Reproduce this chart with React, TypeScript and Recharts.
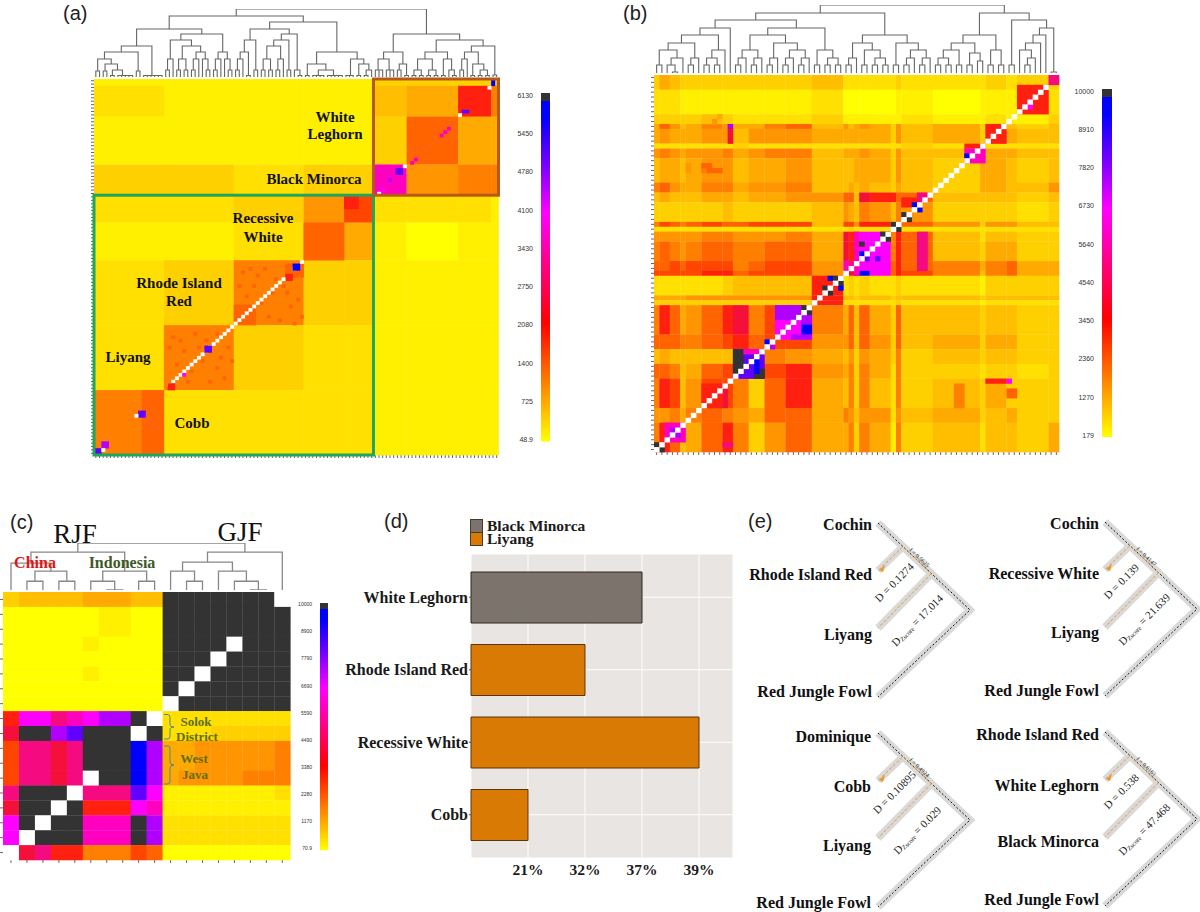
import {
  Bar,
  BarChart,
  CartesianGrid,
  Legend,
  Line,
  LineChart,
  Scatter,
  ScatterChart,
  XAxis,
  YAxis,
} from 'recharts';

const SERIF = '"Liberation Serif", serif';
const SANS = '"Liberation Sans", sans-serif';

// colour levels of the contact heatmaps, written as base-36 digits below
const heatColors = [
  '#ffff00', '#fff000', '#ffe000', '#ffd000', '#ffbf00', '#ffaa00', '#ff9500', '#ff7f00',
  '#ff6400', '#ff4500', '#ff2010', '#f5103a', '#f50a80', '#ff00c0', '#ff00ff', '#b000ff',
  '#6000ff', '#0000ff', '#333333', '#ffffff',
];

// ---- panel (a)
const aColEdges = [0, 19, 38, 57, 68, 76, 85, 99, 108, 110];
const aRowEdges = [0, 2, 11, 25, 34, 42, 53, 72, 91, 110];
const aBands = [
  '111113334',
  '211114 5a7',
  '111113855',
  '33233d677',
  '223692221',
  '112851011',
  '237331111',
  '273221111',
  '722221111',
];
// r0, r1, c0, c1, level
const aPatches: [number, number, number, number, string][] = [
  [91, 110, 13, 19, '8'],
  [66, 72, 38, 44, '8'],
  [54, 58, 52, 57, '8'],
  [34, 38, 68, 72, 'a'],
  [34, 38, 72, 75, '9'],
  [42, 53, 57, 68, '8'],
  [0, 2, 108, 109, 'h'],
  [9, 10, 100, 102, 'g'],
  [16, 17, 94, 95, 'd'],
  [15, 16, 95, 96, 'd'],
  [14, 15, 96, 97, 'd'],
  [23, 24, 87, 88, 'd'],
  [24, 25, 86, 87, 'd'],
  [26, 28, 82, 84, 'g'],
  [29, 30, 80, 81, 'f'],
  [32, 33, 78, 79, 'e'],
  [2, 3, 107, 108, 'j'],
  [10, 11, 99, 100, 'j'],
  [25, 26, 84, 85, 'j'],
  [33, 34, 77, 78, 'j'],
  [57, 59, 52, 54, 'a'],
];
const aDiagonal = [
  20, 21, 22, 23, 24, 25, 26, 27, 28, 29, 30, 31, 32, 33, 34, 35, 36, 37, 38, 39, 40, 41, 42,
  43, 44, 45, 46, 47, 48, 49, 50, 51, 54, 56,
];
const aDiagonalMarks: [number, number, number, number, string][] = [
  [78, 80, 30, 32, 'g'],
  [86, 87, 24, 25, 'e'],
  [89, 91, 20, 22, 'a'],
  [54, 56, 54, 56, 'h'],
  [97, 99, 12, 14, 'g'],
  [98, 99, 11, 12, 'j'],
  [106, 108, 2, 4, 'f'],
  [108, 110, 0, 2, 'g'],
  [108, 109, 2, 3, 'j'],
];
const aSpeckles: [number, number][] = [
  [21, 75], [24, 79], [27, 74], [30, 76], [33, 74], [36, 78], [22, 83], [26, 85], [29, 82],
  [33, 84], [35, 87], [25, 88], [31, 88], [37, 82], [20, 78], [28, 78], [34, 81], [23, 76],
  [40, 56], [43, 60], [46, 55], [49, 58], [41, 63], [45, 65], [48, 62], [51, 60], [53, 66],
  [55, 64], [47, 69], [50, 70], [54, 71], [44, 57], [39, 60], [52, 62], [42, 55], [56, 69],
];
const aTree = (() => {
  const P = [7, 0, 0];
  const Q = [6, 0, 0];
  const F = [1.5, 0, 0];
  const cobb = [31, [25, [18, Q, [13, Q, [7, F, [1.5, 0, [1.5, F, F]]]]], Q], [1.5, [1.5, 0, F], [1.5, 0, F]]];
  const liyang = [43, [37, [18, P, 0], [31, [18, P, P], [25, [18, P, 0], [18, 0, P]]]], [25, [18, P, 0], [18, 0, P]]];
  const rir = [48, [37, [25, [18, P, 0], F], P], [43, [37, [31, [18, P, P], [18, P, 0]], P], [7, 0, F]]];
  const recessive = [25, [13, F, [7, [1.5, F, F], [1.5, F, [1.5, 0, F]]]], [18, [1.5, F, 0], [13, F, [7, F, 0]]]];
  const minorca = [25, [18, [7, 0, P], [7, 0, P]], [13, P, F]];
  const left = [25, [18, [7, F, F], [7, F, F]], [18, F, [7, 0, F]]];
  const right = [31, [25, [18, P, 0], [13, F, [7, F, F]]], [2, 0, 0]];
  return [68, [61, [48, cobb, liyang], [55, rir, recessive]], [43, minorca, [37, left, right]]];
})();
const aBarTicks = [48.9, 725, 1400, 2080, 2750, 3430, 4100, 4780, 5450, 6130];

// ---- panel (b)
const bColEdges = [0, 1, 3, 5, 6, 9, 13, 15, 18, 21, 25, 30, 36, 37, 38, 39, 41, 45, 46, 47, 53, 62, 63, 67, 69, 75, 77];
const bRowEdges = [0, 3, 8, 10, 11, 14, 15, 17, 22, 24, 26, 30, 31, 32, 34, 38, 40, 41, 45, 46, 47, 53, 56, 59, 62, 68, 71, 77];
const bBands = [
  '354333333334 22222232 223233',
  '222111111112 00000011 011112',
  '333334322223 11111112 112113',
  '586457655784 64565364 535434',
  '565556646665 55555364 535544',
  '222222232222 22222223 212222',
  '676566756774 55565364 465544',
  '455456645564 44555364 355434',
  '786557756674 45454354 355446',
  '454445545566 884baa88 444434',
  '333333433334 65476476 333323',
  '798789889994 996aa498 636644',
  '222222222222 23222232 222222',
  '666667766675 baaee7a8 424433',
  '787678877885 baaee7a8 435533',
  '889899978996 dcaee8a8 757855',
  '99999aa89996 8bdhe8a9 747855',
  '22222234444a 23232232 213333',
  '55556666666a 44344344 434444',
  '33333333333a 22222232 212222',
  '7a8568ab79a7 58485384 434433',
  '8887789a8996 68486384 535533',
  '454444444765 46365373 434433',
  '8874589999a6 57375273 323323',
  '7a94699738a5 47374273 435333',
  '667578765885 76466264 534533',
  '7a8458a73685 57375173 424435',
];
const bPatches: [number, number, number, number, string][] = [
  [0, 2, 75, 77, 'c'],
  [2, 8, 69, 75, 'a'],
  [5, 7, 71, 72, 'e'],
  [10, 14, 63, 67, 'a'],
  [14, 15, 59, 63, 'a'],
  [15, 18, 59, 63, 'd'],
  [16, 17, 59, 60, 'h'],
  [10, 11, 14, 15, 'f'],
  [11, 14, 14, 15, 'b'],
  [8, 9, 12, 13, '5'],
  [9, 10, 9, 13, '4'],
  [9, 10, 11, 12, '6'],
  [18, 20, 6, 7, '6'],
  [18, 20, 9, 10, '7'],
  [19, 20, 10, 13, '8'],
  [18, 19, 9, 11, '8'],
  [25, 27, 47, 50, 'a'],
  [24, 26, 50, 52, 'c'],
  [32, 40, 50, 52, 'c'],
  [32, 41, 38, 39, 'd'],
  [32, 34, 43, 45, 'i'],
  [34, 35, 39, 40, 'i'],
  [36, 37, 39, 40, 'h'],
  [37, 38, 40, 41, 'g'],
  [37, 38, 42, 43, 'g'],
  [26, 27, 49, 50, 'h'],
  [27, 28, 50, 51, 'h'],
  [28, 29, 47, 48, 'i'],
  [29, 30, 48, 49, 'i'],
  [30, 31, 45, 46, 'i'],
  [31, 32, 46, 47, 'i'],
  [41, 42, 33, 34, 'h'],
  [41, 42, 34, 35, 'i'],
  [42, 43, 35, 36, 'i'],
  [43, 44, 35, 36, 'h'],
  [43, 44, 32, 33, 'i'],
  [44, 45, 33, 34, 'i'],
  [47, 54, 23, 30, 'e'],
  [47, 50, 23, 28, 'f'],
  [47, 49, 28, 30, 'i'],
  [49, 51, 28, 30, 'f'],
  [51, 53, 28, 30, 'h'],
  [53, 54, 26, 30, 'f'],
  [54, 55, 21, 22, 'h'],
  [55, 56, 22, 23, 'f'],
  [56, 62, 15, 21, 'g'],
  [56, 61, 15, 17, 'i'],
  [56, 57, 17, 20, 'd'],
  [60, 62, 19, 21, 'i'],
  [58, 61, 19, 20, 'h'],
  [62, 63, 63, 67, 'a'],
  [62, 63, 67, 68, 'e'],
  [63, 68, 9, 13, 'a'],
  [63, 68, 13, 14, 'b'],
  [63, 68, 57, 59, '7'],
  [64, 66, 67, 69, '8'],
  [71, 75, 2, 6, 'd'],
  [72, 74, 3, 5, 'f'],
  [75, 76, 13, 15, 'c'],
  [75, 76, 0, 1, 'i'],
  [76, 77, 1, 2, 'i'],
  [75, 76, 1, 2, 'j'],
];
const bDiagonal = [
  0, 2, 3, 4, 5, 6, 7, 8, 9, 10, 11, 12, 13, 14, 15, 16, 17, 18, 19, 20, 21, 22, 23, 24, 25, 26,
  27, 28, 29, 30, 31, 32, 33, 34, 35, 36, 37, 38, 39, 40, 41, 42, 43, 44, 45, 46, 47, 48, 49, 50,
  51, 52, 53, 54, 55, 56, 57, 58, 59, 60, 61, 62, 63, 64, 65, 66, 67, 68, 69, 70, 71, 72, 73, 74,
];
const bTree = (() => {
  const P = [8, 0, 0];
  const F = [1, 0, 0];
  const left = [45, [38, [30, [23, P, [15, [8, 0, F], 0]], [15, P, 0]], [23, [15, P, P], 0]], 0];
  const mid = [45, [38, [23, [15, P, 0], [15, P, 0]], [30, [15, P, 0], [23, [15, P, 0], [15, P, 0]]]], [23, P, [15, P, P]]];
  const centre = [38, [30, [15, P, 0], [23, P, [15, P, [8, 0, 0]]]], [30, P, [23, [15, P, 0], [15, P, 0]]]];
  const rightA = [38, [30, [23, [15, P, P], P], [20, P, [12, 0, 0]]], [23, P, P]];
  const rightB = [53, P, [45, [38, [30, [23, 0, [15, P, 0]], 0], 0], F]];
  return [68, [60, [53, left, mid], centre], [60, rightA, rightB]];
})();
const bBarTicks = [179, 1270, 2360, 3450, 4540, 5640, 6730, 7820, 8910, 10000];

// ---- panel (c)
const cRows = [
  '3444455544iiiiiiij',
  '0000001100iiiiiiii',
  '0000001100iiiiiiii',
  '0000010000iiiijiii',
  '0000000000iiijiiii',
  '0000010000iijiiiii',
  '0000000000ijiiiiii',
  '0000000000jiiiiiii',
  'aeecdeffij22222222',
  'biifgiiiji22233333',
  '9ccbciiihf55666667',
  '9ccbciiihf55666667',
  '9ccbcjiihf56666777',
  'ciiijcccge11111112',
  'biijiaaaed11111111',
  'eijiidddif22222222',
  'ejiiidddif22222222',
  'jbcaa7779800000000',
];
const cTree = [
  47,
  [38, [27, 0, [19, [9, 0, 0], [9, 0, 0]]], [19, [9, 0, [0.3, 0, 0]], [9, 0, 0]]],
  [38, [28, [19, 0, [9, 0, 0]], [19, 0, [9, 0, [0.3, 0, 0]]]], 0],
];
const cBarTicks = [70.9, 1170, 2280, 3380, 4490, 5590, 6690, 7790, 8900, 10000];

// ---- panel (d)
const dBreeds = ['White Leghorn', 'Rhode Island Red', 'Recessive White', 'Cobb'];
const dMinorca = [37, null, null, null];
const dLiyang = [null, 32, 39, 21];
const dTicks = [21, 32, 37, 39];

// ---- panel (e)
const eOuter = [{ x: 0, y: 0 }, { x: 92, y: 87 }, { x: 0, y: 174 }];
const eUpper = [{ x: 53.5, y: 50.6 }, { x: 25, y: 23.6 }, { x: 0, y: 47.6 }];
const eLower = [{ x: 53.5, y: 50.6 }, { x: 0, y: 105 }];
const eTaxa = [
  ['Cochin', 'Rhode Island Red', 'Liyang', 'Red Jungle Fowl'],
  ['Cochin', 'Recessive White', 'Liyang', 'Red Jungle Fowl'],
  ['Dominique', 'Cobb', 'Liyang', 'Red Jungle Fowl'],
  ['Rhode Island Red', 'White Leghorn', 'Black Minorca', 'Red Jungle Fowl'],
];
const eF = ['f = 0.5625', 'f = 0.4147', 'f = 0.4924', 'f = 0.6161'];
const eD = ['D = 0.1274', 'D = 0.139', 'D = 0.10895', 'D = 0.538'];
const eZ = ['17.014', '21.639', '0.029', '47.468'];

type Span = { x: number; y: number; w: number; h: number; level: number };

const lv = (c: string) => parseInt(c, 36);

function span(r0: number, r1: number, c0: number, c1: number, level: number): Span {
  return { x: (c0 + c1) / 2, y: (r0 + r1) / 2, w: c1 - c0, h: r1 - r0, level };
}

function bandSpans(rowEdges: number[], colEdges: number[], rows: string[]) {
  const out: Span[] = [];
  rows.forEach((row, i) => {
    row
      .replace(/ /g, '')
      .split('')
      .forEach((ch, j) => {
        out.push(span(rowEdges[i], rowEdges[i + 1], colEdges[j], colEdges[j + 1], lv(ch)));
      });
  });
  return out;
}

function patchSpans(list: [number, number, number, number, string][]) {
  return list.map((p) => span(p[0], p[1], p[2], p[3], lv(p[4])));
}

// turns a nested [height, left, right] tree into one broken line, leaves are 0
function dendroPoints(tree: any) {
  const pts: { x: number; y: number | null }[] = [];
  let leaf = 0;
  const walk = (node: any): { x: number; h: number } => {
    if (node === 0) {
      leaf += 1;
      return { x: leaf - 0.5, h: 0 };
    }
    const a = walk(node[1]);
    const b = walk(node[2]);
    pts.push({ x: a.x, y: a.h }, { x: a.x, y: node[0] }, { x: b.x, y: node[0] }, { x: b.x, y: b.h }, { x: b.x, y: null });
    return { x: (a.x + b.x) / 2, h: node[0] };
  };
  walk(tree);
  return pts;
}

function Dendrogram({ left, top, width, height, leaves, maxH, tree, stroke = '#666', strokeWidth = 1.1 }: any) {
  const data = dendroPoints(tree);
  return (
    <div style={{ position: 'absolute', left, top }}>
      <LineChart width={width} height={height} data={data} margin={{ top: 0, right: 0, bottom: 0, left: 0 }}>
        <XAxis dataKey="x" type="number" domain={[0, leaves]} hide />
        <YAxis type="number" domain={[0, maxH]} hide />
        <Line dataKey="y" type="linear" stroke={stroke} strokeWidth={strokeWidth} dot={false} isAnimationActive={false} />
      </LineChart>
    </div>
  );
}

function HeatMap({ left, top, width, height, cols, rows, spans, frames, axis = 4 }: any) {
  const ux = width / cols;
  const uy = height / rows;
  const pad = 3;
  const cell = (p: any) => {
    const d = p.payload;
    return (
      <rect
        x={p.cx - (d.w * ux) / 2}
        y={p.cy - (d.h * uy) / 2}
        width={d.w * ux + 0.3}
        height={d.h * uy + 0.3}
        fill={heatColors[d.level]}
      />
    );
  };
  const frame = (color: string) => (p: any) => {
    const d = p.payload;
    return (
      <rect
        x={p.cx - (d.w * ux) / 2}
        y={p.cy - (d.h * uy) / 2}
        width={d.w * ux}
        height={d.h * uy}
        fill="none"
        stroke={color}
        strokeWidth={3}
      />
    );
  };
  const colTicks = Array.from({ length: cols }, (_, i) => i + 0.5);
  const rowTicks = Array.from({ length: rows }, (_, i) => i + 0.5);
  return (
    <div style={{ position: 'absolute', left: left - axis, top: top - pad }}>
      <ScatterChart
        width={width + axis + pad}
        height={height + axis + pad}
        margin={{ top: pad, right: pad, bottom: 0, left: 0 }}
      >
        <XAxis
          dataKey="x"
          type="number"
          domain={[0, cols]}
          ticks={colTicks}
          interval={0}
          height={axis}
          axisLine={false}
          tickSize={axis - 1}
          tickFormatter={() => ''}
          stroke="#666"
        />
        <YAxis
          dataKey="y"
          type="number"
          domain={[0, rows]}
          reversed
          ticks={rowTicks}
          interval={0}
          width={axis}
          axisLine={false}
          tickSize={axis - 1}
          tickFormatter={() => ''}
          stroke="#666"
        />
        <Scatter data={spans} shape={cell} isAnimationActive={false} />
        {frames
          ? frames.map((f: any) => (
              <Scatter key={f.color} data={[f]} shape={frame(f.color)} isAnimationActive={false} />
            ))
          : null}
      </ScatterChart>
    </div>
  );
}

function ColorBar({ id, left, top, width, height, domain, ticks, labelWidth, fontSize = 7 }: any) {
  const pad = 6;
  return (
    <div style={{ position: 'absolute', left: left - labelWidth, top: top - pad }}>
      <BarChart
        width={width + labelWidth}
        height={height + pad * 2}
        data={[{ name: '', value: domain[1] }]}
        barCategoryGap={0}
        margin={{ top: pad, right: 0, bottom: pad, left: 0 }}
      >
        <defs>
          <linearGradient id={id} x1="0" y1="0" x2="0" y2="1">
            <stop offset="0.022" stopColor="#333333" />
            <stop offset="0.023" stopColor="#0000ff" />
            <stop offset="0.07" stopColor="#0000ff" />
            <stop offset="0.2" stopColor="#7000ff" />
            <stop offset="0.345" stopColor="#ff00ff" />
            <stop offset="0.46" stopColor="#ff00a0" />
            <stop offset="0.66" stopColor="#ff0000" />
            <stop offset="0.86" stopColor="#ff9500" />
            <stop offset="1" stopColor="#ffff00" />
          </linearGradient>
        </defs>
        <XAxis dataKey="name" hide />
        <YAxis
          type="number"
          domain={domain}
          ticks={ticks}
          interval={0}
          width={labelWidth}
          axisLine={false}
          tickLine={false}
          tickMargin={2}
          tick={{ fontFamily: SANS, fontSize, fill: '#333' }}
        />
        <Bar dataKey="value" fill={`url(#${id})`} isAnimationActive={false} />
      </BarChart>
    </div>
  );
}

function BreedBars() {
  const data = dBreeds.map((name, i) => ({
    name,
    minorca: dMinorca[i] === null ? null : dTicks.indexOf(dMinorca[i] as number) + 1,
    liyang: dLiyang[i] === null ? null : dTicks.indexOf(dLiyang[i] as number) + 1,
  }));
  const legend = () => (
    <div style={{ fontFamily: SERIF, fontWeight: 'bold', fontSize: 15.5, color: '#1a1a1a', lineHeight: '13px' }}>
      {[
        ['Black Minorca', '#7c736d'],
        ['Liyang', '#d97a04'],
      ].map(([label, color]) => (
        <div key={label} style={{ display: 'flex', alignItems: 'center', height: 13 }}>
          <span style={{ display: 'inline-block', width: 11, height: 12, background: color, border: '0.5px solid #4a3a2a', marginRight: 4 }} />
          {label}
        </div>
      ))}
    </div>
  );
  return (
    <div style={{ position: 'absolute', left: 340, top: 515 }}>
      <BarChart
        width={393}
        height={403}
        data={data}
        layout="vertical"
        margin={{ top: 39, right: 0, bottom: 0, left: 0 }}
      >
        <CartesianGrid fill="#e8e5e2" stroke="#ffffff" strokeWidth={1} />
        <XAxis
          type="number"
          domain={[0, 4.596]}
          ticks={[1, 2, 3, 4]}
          interval={0}
          height={33}
          axisLine={false}
          tickLine={false}
          tickMargin={0}
          tickFormatter={(v) => `${dTicks[v - 1]}%`}
          tick={{ fontFamily: SERIF, fontWeight: 'bold', fontSize: 15.5, fill: '#1a1a1a' }}
        />
        <YAxis
          type="category"
          dataKey="name"
          width={131}
          padding={{ top: 7, bottom: 7 }}
          axisLine={false}
          tickSize={2}
          tickMargin={1}
          stroke="#555"
          tick={{ fontFamily: SERIF, fontWeight: 'bold', fontSize: 16, fill: '#1a1a1a' }}
        />
        <Legend
          content={legend}
          wrapperStyle={{ position: 'absolute', left: 130, top: 4, width: 200, height: 27 }}
        />
        <Bar dataKey="minorca" stackId="a" barSize={51} fill="#7c736d" stroke="#2c2620" strokeWidth={1} isAnimationActive={false} />
        <Bar dataKey="liyang" stackId="a" barSize={51} fill="#d97a04" stroke="#5a3510" strokeWidth={1} isAnimationActive={false} />
      </BarChart>
    </div>
  );
}

function Quartet({ left, top }: { left: number; top: number }) {
  const line = { type: 'linear' as const, dataKey: 'y', dot: false, isAnimationActive: false };
  return (
    <div style={{ position: 'absolute', left: left - 8, top: top - 8 }}>
      <LineChart width={112} height={192} margin={{ top: 0, right: 0, bottom: 0, left: 0 }}>
        <XAxis dataKey="x" type="number" domain={[-8, 104]} hide allowDuplicatedCategory={false} />
        <YAxis type="number" domain={[-8, 184]} reversed hide />
        <Line {...line} data={eOuter} stroke="#d9d9d9" strokeWidth={7.5} />
        <Line {...line} data={eUpper} stroke="#d9d9d9" strokeWidth={7.5} />
        <Line {...line} data={eLower} stroke="#d9d9d9" strokeWidth={7.5} />
        <Line {...line} data={eOuter} stroke="#111" strokeWidth={1} strokeDasharray="2 2" />
        <Line {...line} data={eUpper} stroke="#e89a2c" strokeWidth={1} strokeDasharray="3 2" />
        <Line {...line} data={eLower} stroke="#e89a2c" strokeWidth={1} strokeDasharray="3 2" />
      </LineChart>
    </div>
  );
}

const quartetPos = [
  { x: 878, y: 523, right: 872, base: [530, 580, 640, 697] },
  { x: 1105, y: 522, right: 1099, base: [529, 579, 638, 696] },
  { x: 878, y: 733, right: 871, base: [742, 792, 851, 908] },
  { x: 1105, y: 732, right: 1099, base: [740, 791, 847, 905] },
];

function Overlay() {
  const bold = { fontFamily: SERIF, fontWeight: 'bold' as const, fill: '#111' };
  const a = (x: number, y: number, s: string) => (
    <text key={s + y} x={x} y={y} textAnchor="middle" fontSize={15} {...bold}>
      {s}
    </text>
  );
  return (
    <svg width={1200} height={912} style={{ position: 'absolute', left: 0, top: 0, pointerEvents: 'none' }}>
      {[
        ['(a)', 63, 20],
        ['(b)', 623, 20],
        ['(c)', 10, 529],
        ['(d)', 384, 528],
        ['(e)', 748, 528],
      ].map(([s, x, y]) => (
        <text key={s as string} x={x} y={y} fontFamily={SANS} fontSize={20} fill="#222">
          {s}
        </text>
      ))}
      {a(335, 122, 'White')}
      {a(335, 139, 'Leghorn')}
      {a(314, 184, 'Black Minorca')}
      {a(263, 223, 'Recessive')}
      {a(263, 242, 'White')}
      {a(179, 288, 'Rhode Island')}
      {a(179, 306, 'Red')}
      {a(128, 362, 'Liyang')}
      {a(192, 428, 'Cobb')}

      <text x={75} y={543} textAnchor="middle" fontFamily={SERIF} fontSize={27} fill="#111">RJF</text>
      <text x={240} y={541} textAnchor="middle" fontFamily={SERIF} fontSize={27} fill="#111">GJF</text>
      <text x={35} y={568} textAnchor="middle" fontFamily={SERIF} fontWeight="bold" fontSize={16} fill="#e01515">China</text>
      <text x={122} y={568} textAnchor="middle" fontFamily={SERIF} fontWeight="bold" fontSize={16} fill="#3c5a28">Indonesia</text>
      {[
        ['Solok', 196, 726],
        ['District', 197, 741],
        ['West', 194, 763],
        ['Java', 195, 779],
      ].map(([s, x, y]) => (
        <text key={s as string} x={x} y={y} textAnchor="middle" fontFamily={SERIF} fontWeight="bold" fontSize={13} fill="#5c6e14">
          {s}
        </text>
      ))}
      <path d="M164 714.5 H168 Q170 715 170 718 V725 Q170 727 174 727 Q170 727 170 729 V736 Q170 739 168 739 H164" fill="none" stroke="#4d8797" strokeWidth={1} />
      <path d="M164 746 H168 Q170 746 170 749 V762 Q170 765 174 765 Q170 765 170 768 V781 Q170 784 168 784 H164" fill="none" stroke="#4d8797" strokeWidth={1} />

      {quartetPos.map((q, i) => (
        <g key={i}>
          {eTaxa[i].map((t, j) => (
            <text key={t + j} x={q.right} y={q.base[j]} textAnchor="end" fontSize={16} {...bold}>
              {t}
            </text>
          ))}
          <polygon points={`${q.x + 1},${q.y + 47} ${q.x + 7},${q.y + 42} ${q.x + 5},${q.y + 49}`} fill="#e89a2c" />
          <text x={q.x + 19} y={q.y + 62} textAnchor="middle" fontFamily={SERIF} fontSize={11} fill="#222" transform={`rotate(-45 ${q.x + 19} ${q.y + 62})`}>
            {eD[i]}
          </text>
          <text x={q.x + 42} y={q.y + 100} textAnchor="middle" fontFamily={SERIF} fontSize={11} fill="#222" transform={`rotate(-45 ${q.x + 42} ${q.y + 100})`}>
            D<tspan fontSize={6.5} dy={1}>Zscore</tspan>
            <tspan dy={-1}> = {eZ[i]}</tspan>
          </text>
          <text x={q.x + 40} y={q.y + 36} textAnchor="middle" fontFamily={SERIF} fontSize={6} fill="#222" transform={`rotate(43 ${q.x + 40} ${q.y + 36})`}>
            {eF[i]}
          </text>
        </g>
      ))}
    </svg>
  );
}

const aSpans = [
  ...bandSpans(aRowEdges, aColEdges, aBands),
  ...patchSpans(aPatches),
  ...aSpeckles.map(([c, r]) => span(r, r + 1, c, c + 1, lv('8'))),
  ...aDiagonal.map((c) => span(109 - c, 110 - c, c, c + 1, lv('j'))),
  ...patchSpans(aDiagonalMarks),
];
const aFrames = [
  { ...span(34, 110, 0, 76, 0), color: '#1fa65c' },
  { ...span(0, 34, 76, 110, 0), color: '#b5591c' },
];
const bSpans = [
  ...bandSpans(bRowEdges, bColEdges, bBands),
  ...patchSpans(bPatches),
  ...bDiagonal.map((c) => span(76 - c, 77 - c, c, c + 1, lv('j'))),
];
const cSpans = cRows.flatMap((row, r) => row.split('').map((ch, c) => span(r, r + 1, c, c + 1, lv(ch))));

export default function App() {
  return (
    <div style={{ position: 'absolute', left: 0, top: 0, width: 1200, height: 912, background: '#fff', overflow: 'hidden' }}>
      <Dendrogram left={93.5} top={9} width={404.5} height={68} leaves={110} maxH={68} tree={aTree} />
      <HeatMap left={93.5} top={79.3} width={404.5} height={376} cols={110} rows={110} spans={aSpans} frames={aFrames} />
      <ColorBar id="barA" left={541} top={93.3} width={9} height={348.4} domain={[18.9, 6172]} ticks={aBarTicks} labelWidth={30} />

      <Dendrogram left={654} top={5} width={405} height={68} leaves={77} maxH={68} tree={bTree} />
      <HeatMap left={654} top={75} width={405} height={377} cols={77} rows={77} spans={bSpans} />
      <ColorBar id="barB" left={1102} top={89.3} width={9.5} height={348} domain={[133, 10068]} ticks={bBarTicks} labelWidth={30} />

      <Dendrogram left={2.7} top={542.7} width={287.3} height={47.3} leaves={18} maxH={47} tree={cTree} stroke="#888" strokeWidth={1.3} />
      <HeatMap left={2.7} top={592} width={287.3} height={268} cols={18} rows={18} spans={cSpans} />
      <ColorBar id="barC" left={320} top={602.7} width={7.7} height={247.3} domain={[2, 10053]} ticks={cBarTicks} labelWidth={25} fontSize={5} />

      <BreedBars />
      {quartetPos.map((q, i) => (
        <Quartet key={i} left={q.x} top={q.y} />
      ))}
      <Overlay />
    </div>
  );
}
